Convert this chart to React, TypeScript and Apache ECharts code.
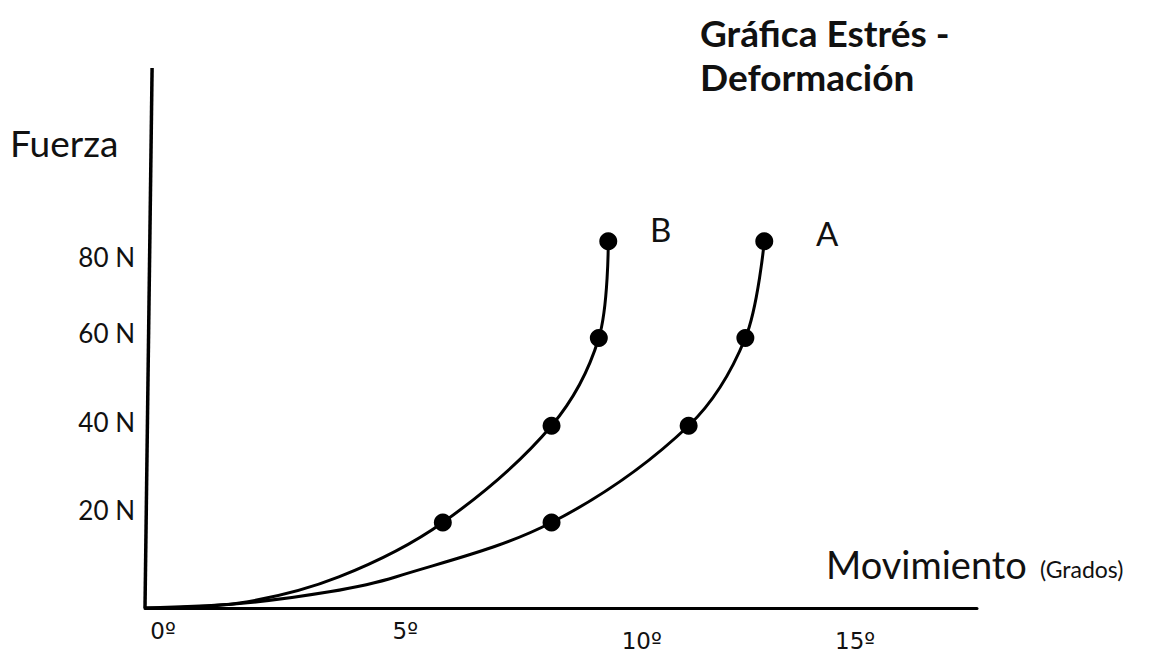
import React, { useEffect, useRef } from 'react';
import * as echarts from 'echarts';

// Axis ticks
const xTickValues = [0, 5, 10, 15];
const xTickLabels = ['0º', '5º', '10º', '15º'];
const yTickValues = [20, 40, 60, 80];
const yTickLabels = ['20 N', '40 N', '60 N', '80 N'];

// Curve B: marked points (degrees, newtons)
const bDeg = [6.3, 8.6, 9.6, 9.8];
const bForce = [19, 40.5, 60, 81.5];
// Curve A: marked points
const aDeg = [8.6, 11.5, 12.7, 13.1];
const aForce = [19, 40.5, 60, 81.5];
// Unmarked points that the drawn curves pass through
const bTraceDeg = [0, 2.0, 4.1];
const bTraceForce = [0, 1.1, 6.9];
const aTraceDeg = [0, 2.0, 3.9, 5.3];
const aTraceForce = [0, 1.0, 3.6, 6.9];

// Hand-drawn (slightly slanted) vertical axis
const yAxisLineDeg = [0, 0.15];
const yAxisLineForce = [0, 120];

const FONT = 'Lato, "Open Sans", sans-serif';
const TICK_FONT = '"DejaVu Sans", "Liberation Sans", sans-serif';
const TXT = '#111';

function buildCurve(tDeg: number[], tF: number[], pDeg: number[], pF: number[]) {
  const trace = tDeg.map((d, i) => ({ value: [d, tF[i]], symbol: 'none' }));
  const marks = pDeg.map((d, i) => ({ value: [d, pF[i]] }));
  return [...trace, ...marks].sort((p, q) => p.value[1] - q.value[1]);
}

const xRich: Record<string, any> = {
  x0: { padding: [0, 0, 0, 36] },
  x1: { padding: [0, 0, 0, 48] },
  x2: { padding: [10, 0, 0, 48] },
  x3: { padding: [10, 0, 0, 2] },
};
const yRich: Record<string, any> = {
  y0: { padding: [0, 0, 16, 0] },
  y1: { padding: [0, 0, 12, 0] },
  y2: { padding: [0, 0, 10, 0] },
  y3: { padding: [18, 0, 0, 0] },
};
Object.values(xRich).forEach((s) => Object.assign(s, { fontSize: 23, fontFamily: TICK_FONT, color: TXT }));
Object.values(yRich).forEach((s) => Object.assign(s, { fontSize: 26, fontFamily: FONT, color: TXT }));

export default function App() {
  const ref = useRef<HTMLDivElement>(null);
  useEffect(() => {
    if (!ref.current) return;
    const chart = echarts.init(ref.current, null, { renderer: 'svg' });
    chart.setOption({
      animation: false,
      backgroundColor: '#fff',
      grid: { left: 145, right: 184, top: 68, bottom: 50 },
      xAxis: {
        type: 'value',
        min: 0,
        max: 17.6,
        axisLine: { show: true, onZero: false, lineStyle: { color: '#000', width: 3 } },
        axisTick: { show: false },
        splitLine: { show: false },
        axisLabel: {
          customValues: xTickValues,
          margin: 11,
          fontSize: 23,
          fontFamily: TICK_FONT,
          color: TXT,
          rich: xRich,
          formatter: (v: number) => {
            const i = xTickValues.indexOf(v);
            return i < 0 ? '' : `{x${i}|${xTickLabels[i]}}`;
          },
        },
      },
      yAxis: {
        type: 'value',
        min: 0,
        max: 120,
        axisLine: { show: false },
        axisTick: { show: false },
        splitLine: { show: false },
        axisLabel: {
          customValues: yTickValues,
          margin: 10,
          fontSize: 26,
          fontFamily: FONT,
          color: TXT,
          rich: yRich,
          formatter: (v: number) => {
            const i = yTickValues.indexOf(v);
            return i < 0 ? '' : `{y${i}|${yTickLabels[i]}}`;
          },
        },
      },
      series: [
        {
          type: 'line',
          name: 'axis',
          data: yAxisLineDeg.map((d, i) => [d, yAxisLineForce[i]]),
          symbol: 'none',
          lineStyle: { color: '#000', width: 3.5 },
          silent: true,
          z: 1,
        },
        {
          type: 'line',
          name: 'B',
          data: buildCurve(bTraceDeg, bTraceForce, bDeg, bForce),
          smooth: 0.34,
          symbol: 'circle',
          symbolSize: 18,
          showSymbol: true,
          itemStyle: { color: '#000' },
          lineStyle: { color: '#000', width: 3 },
          z: 3,
        },
        {
          type: 'line',
          name: 'A',
          data: buildCurve(aTraceDeg, aTraceForce, aDeg, aForce),
          smooth: 0.34,
          symbol: 'circle',
          symbolSize: 18,
          showSymbol: true,
          itemStyle: { color: '#000' },
          lineStyle: { color: '#000', width: 3 },
          z: 3,
        },
      ],
      graphic: [
        { type: 'text', left: 700, top: 14, style: { text: 'Gráfica Estrés -', fontSize: 37, fontWeight: 'bold', fontFamily: FONT, fill: TXT } },
        { type: 'text', left: 700, top: 58, style: { text: 'Deformación', fontSize: 37, fontWeight: 'bold', fontFamily: FONT, fill: TXT } },
        { type: 'text', left: 10, top: 124, style: { text: 'Fuerza', fontSize: 37, fontFamily: FONT, fill: TXT } },
        { type: 'text', left: 826, top: 545, style: { text: 'Movimiento', fontSize: 38, fontFamily: FONT, fill: TXT } },
        { type: 'text', left: 1040, top: 557, style: { text: '(Grados)', fontSize: 23, fontFamily: FONT, fill: TXT } },
        { type: 'text', left: 650, top: 212, style: { text: 'B', fontSize: 33, fontFamily: FONT, fill: TXT } },
        { type: 'text', left: 816, top: 216, style: { text: 'A', fontSize: 33, fontFamily: FONT, fill: TXT } },
      ],
    });
    return () => chart.dispose();
  }, []);
  return <div ref={ref} style={{ position: 'fixed', left: 0, top: 0, width: 1161, height: 658 }} />;
}
